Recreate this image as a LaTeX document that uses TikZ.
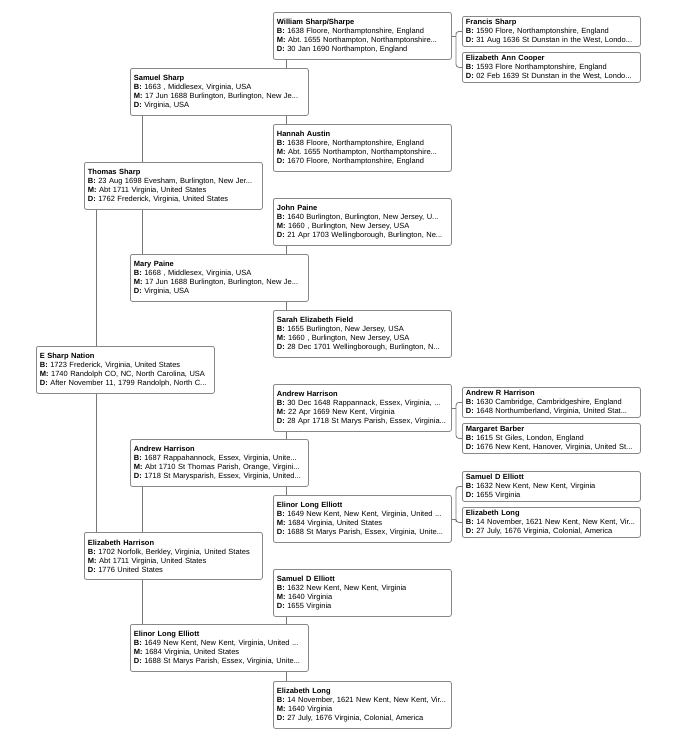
\documentclass[tikz,border=0pt]{standalone}
\usepackage{fontspec}
\setmainfont{Liberation Sans}
\usetikzlibrary{backgrounds}
\frenchspacing

\definecolor{boxgray}{HTML}{888888}
\definecolor{linkgray}{HTML}{777777}

\tikzset{%
  every person/.style={
    rectangle,
    draw=boxgray,
    fill=white,
    line width=0.8pt,
    rounded corners=2pt,
    anchor=north west,
    align=left,
    text width=171pt,
    inner xsep=3.5pt,
    inner ysep=2pt,
    minimum height=47pt,
    font=\fontsize{7.5}{9}\selectfont
  },
  person short/.style={
    every person,
    minimum height=30pt
  },
  link/.style={
    draw=linkgray,
    line width=0.8pt
  },
}

\begin{document}
\begin{tikzpicture}[x=1pt,y=-1pt]%[ultra thick]
  \useasboundingbox (0,0) rectangle (680,750);
  % generation 0
  \node [every person] (p-1) at ( 36 ,346) {\textbf{E Sharp Nation}\\\textbf{B:} 1723 Frederick, Virginia, United States\\\textbf{M:} 1740 Randolph CO, NC, North Carolina, USA\\\textbf{D:} After November 11, 1799 Randolph, North C...} ;
  % generation 1
  \node [every person] (p-2) at ( 84 ,162) {\textbf{Thomas Sharp}\\\textbf{B:} 23 Aug 1698 Evesham, Burlington, New Jer...\\\textbf{M:} Abt 1711 Virginia, United States\\\textbf{D:} 1762 Frederick, Virginia, United States} ;
  \node [every person] (p-3) at ( 84 ,532) {\textbf{Elizabeth Harrison}\\\textbf{B:} 1702 Norfolk, Berkley, Virginia, United States\\\textbf{M:} Abt 1711 Virginia, United States\\\textbf{D:} 1776 United States} ;
  % generation 2
  \node [every person] (p-4) at ( 130 ,68) {\textbf{Samuel Sharp}\\\textbf{B:} 1663 , Middlesex, Virginia, USA\\\textbf{M:} 17 Jun 1688 Burlington, Burlington, New Je...\\\textbf{D:} Virginia, USA} ;
  \node [every person] (p-5) at ( 130 ,254) {\textbf{Mary Paine}\\\textbf{B:} 1668 , Middlesex, Virginia, USA\\\textbf{M:} 17 Jun 1688 Burlington, Burlington, New Je...\\\textbf{D:} Virginia, USA} ;
  \node [every person] (p-6) at ( 130 ,439) {\textbf{Andrew Harrison}\\\textbf{B:} 1687 Rappahannock, Essex, Virginia, Unite...\\\textbf{M:} Abt 1710 St Thomas Parish, Orange, Virgini...\\\textbf{D:} 1718 St Marysparish, Essex, Virginia, United...} ;
  \node [every person] (p-7) at ( 130 ,624) {\textbf{Elinor Long Elliott}\\\textbf{B:} 1649 New Kent, New Kent, Virginia, United ...\\\textbf{M:} 1684 Virginia, United States\\\textbf{D:} 1688 St Marys Parish, Essex, Virginia, Unite...} ;
  % generation 3
  \node [every person] (p-8) at ( 273 ,12) {\textbf{William Sharp/Sharpe}\\\textbf{B:} 1638 Floore, Northamptonshire, England\\\textbf{M:} Abt. 1655 Northampton, Northamptonshire...\\\textbf{D:} 30 Jan 1690 Northampton, England} ;
  \node [every person] (p-9) at ( 273 ,124) {\textbf{Hannah Austin}\\\textbf{B:} 1638 Floore, Northamptonshire, England\\\textbf{M:} Abt. 1655 Northampton, Northamptonshire...\\\textbf{D:} 1670 Floore, Northamptonshire, England} ;
  \node [every person] (p-10) at ( 273 ,198) {\textbf{John Paine}\\\textbf{B:} 1640 Burlington, Burlington, New Jersey, U...\\\textbf{M:} 1660 , Burlington, New Jersey, USA\\\textbf{D:} 21 Apr 1703 Wellingborough, Burlington, Ne...} ;
  \node [every person] (p-11) at ( 273 ,310) {\textbf{Sarah Elizabeth Field}\\\textbf{B:} 1655 Burlington, New Jersey, USA\\\textbf{M:} 1660 , Burlington, New Jersey, USA\\\textbf{D:} 28 Dec 1701 Wellingborough, Burlington, N...} ;
  \node [every person] (p-12) at ( 273 ,384) {\textbf{Andrew Harrison}\\\textbf{B:} 30 Dec 1648 Rappannack, Essex, Virginia, ...\\\textbf{M:} 22 Apr 1669 New Kent, Virginia\\\textbf{D:} 28 Apr 1718 St Marys Parish, Essex, Virginia...} ;
  \node [every person] (p-13) at ( 273 ,495) {\textbf{Elinor Long Elliott}\\\textbf{B:} 1649 New Kent, New Kent, Virginia, United ...\\\textbf{M:} 1684 Virginia, United States\\\textbf{D:} 1688 St Marys Parish, Essex, Virginia, Unite...} ;
  \node [every person] (p-14) at ( 273 ,569) {\textbf{Samuel D Elliott}\\\textbf{B:} 1632 New Kent, New Kent, Virginia\\\textbf{M:} 1640 Virginia\\\textbf{D:} 1655 Virginia} ;
  \node [every person] (p-15) at ( 273 ,681) {\textbf{Elizabeth Long}\\\textbf{B:} 14 November, 1621 New Kent, New Kent, Vir...\\\textbf{M:} 1640 Virginia\\\textbf{D:} 27 July, 1676 Virginia, Colonial, America} ;
  % generation 4
  \node [person short] (p-16) at ( 462 ,16) {\textbf{Francis Sharp}\\\textbf{B:} 1590 Flore, Northamptonshire, England\\\textbf{D:} 31 Aug 1636 St Dunstan in the West, Londo...} ;
  \node [person short] (p-17) at ( 462 ,52) {\textbf{Elizabeth Ann Cooper}\\\textbf{B:} 1593 Flore Northamptonshire, England\\\textbf{D:} 02 Feb 1639 St Dunstan in the West, Londo...} ;
  \node [person short] (p-24) at ( 462 ,387) {\textbf{Andrew R Harrison}\\\textbf{B:} 1630 Cambridge, Cambridgeshire, England\\\textbf{D:} 1648 Northumberland, Virginia, United Stat...} ;
  \node [person short] (p-25) at ( 462 ,423) {\textbf{Margaret Barber}\\\textbf{B:} 1615 St Giles, London, England\\\textbf{D:} 1676 New Kent, Hanover, Virginia, United St...} ;
  \node [person short] (p-26) at ( 462 ,471) {\textbf{Samuel D Elliott}\\\textbf{B:} 1632 New Kent, New Kent, Virginia\\\textbf{D:} 1655 Virginia} ;
  \node [person short] (p-27) at ( 462 ,507) {\textbf{Elizabeth Long}\\\textbf{B:} 14 November, 1621 New Kent, New Kent, Vir...\\\textbf{D:} 27 July, 1676 Virginia, Colonial, America} ;
\begin{pgfonlayer}{background}
%% father -- mother, behind the child
\draw [link] ([xshift=12pt]p-2.south west) -- ([xshift=12pt]p-3.north west);
\draw [link] ([xshift=12pt]p-4.south west) -- ([xshift=12pt]p-5.north west);
\draw [link] ([xshift=12pt]p-6.south west) -- ([xshift=12pt]p-7.north west);
\draw [link] ([xshift=13pt]p-8.south west) -- ([xshift=13pt]p-9.north west);
\draw [link] ([xshift=13pt]p-10.south west) -- ([xshift=13pt]p-11.north west);
\draw [link] ([xshift=13pt]p-12.south west) -- ([xshift=13pt]p-13.north west);
\draw [link] ([xshift=13pt]p-14.south west) -- ([xshift=13pt]p-15.north west);
\end{pgfonlayer}
%% brackets to the last generation
\draw [link] (p-8.east) -- ([xshift=-6pt]p-16.west |- p-8.east);
\draw [link, rounded corners=3pt] (p-16.west) -| ([xshift=-6pt]p-16.west |- p-8.east) |- (p-17.west);
\draw [link] (p-12.east) -- ([xshift=-6pt]p-24.west |- p-12.east);
\draw [link, rounded corners=3pt] (p-24.west) -| ([xshift=-6pt]p-24.west |- p-12.east) |- (p-25.west);
\draw [link] (p-13.east) -- ([xshift=-6pt]p-26.west |- p-13.east);
\draw [link, rounded corners=3pt] (p-26.west) -| ([xshift=-6pt]p-26.west |- p-13.east) |- (p-27.west);
\end{tikzpicture}
\end{document}
